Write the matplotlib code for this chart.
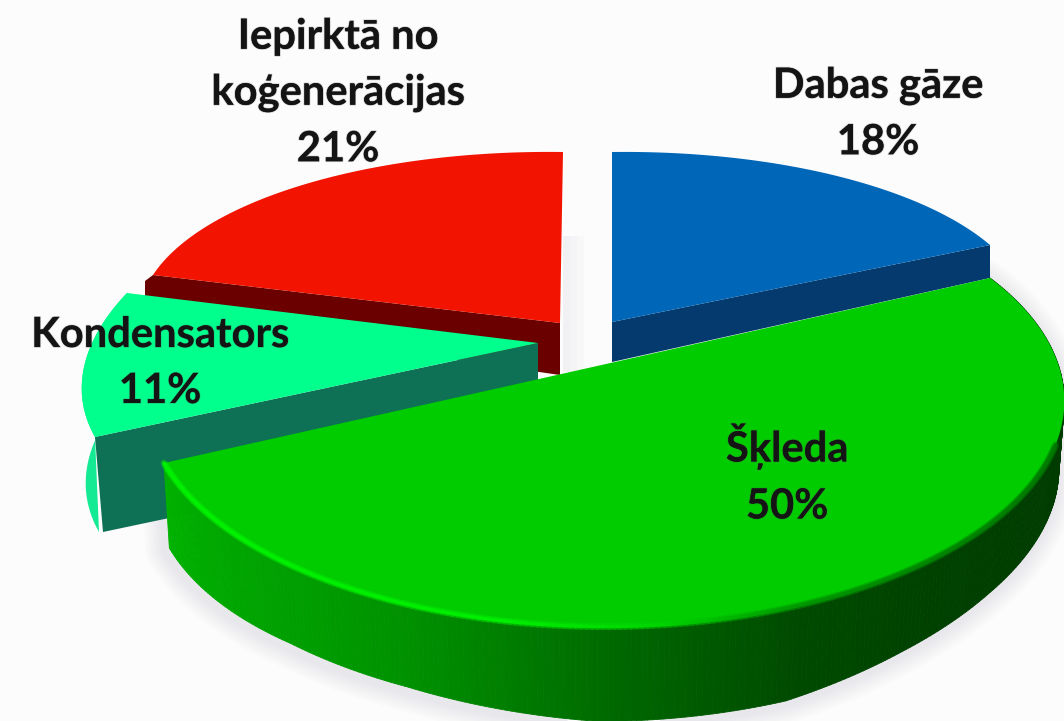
import numpy as np
import matplotlib
matplotlib.use("Agg")
import matplotlib.pyplot as plt
import matplotlib.patheffects as pe
from matplotlib.collections import PolyCollection, LineCollection
from matplotlib.patches import Polygon

# ---- data ----
names = ["Dabas gāze", "Šķleda", "Kondensators", "Iepirktā no\nkoģenerācijas"]
shares = [18, 50, 11, 21]

# ---- colours ----
TOP = ["#0066b8", "#00cc00", "#00ff8c", "#f21400"]
WALL = ["#043a6e", "#006000", "#0e7055", "#6a0000"]
BG = "#fcfcfc"

# ---- layout, in pixels of the picture ----
BLUE_APEX, BLUE_TIP_A, BLUE_TIP_B = (612, 322), (612, 152), (990, 245)
RED_APEX, RED_TIP_A, RED_TIP_B = (560, 323), (563, 152), (153, 275)
MINT_APEX, MINT_TIP_A, MINT_TIP_B = (538, 343), (127, 293), (95, 437)
GREEN_FRONT, GREEN_BACK, GREEN_RIGHT, GREEN_LEFT = (801, 605), (419, 195), (990, 278), (164, 463)
LABEL_POS = [(878, 114), (787, 474), (160, 363), (338, 93)]
LABEL_SIZE = 30

# wall shading and depth of the green slice, by picture x
WALL_X = [164, 199, 405, 610, 790, 930, 1064]
WALL_G = [178, 170, 145, 105, 75, 65, 60]
DEPTH_X = [164, 287, 405, 600, 788, 906, 994, 1064]
DEPTH_V = [85, 80, 83, 95, 93, 80, 72, 68]


def affine(share, apex, tip_a, tip_b):
    half = share / 100 * np.pi
    a, b, c = (np.array(p, float) for p in (apex, tip_a, tip_b))
    ta, tb = b - a, c - a
    m = (ta + tb) / (2 * np.cos(half))
    n = (ta - tb) / (2 * np.sin(half))
    return np.array([[m[0], n[0], a[0]], [m[1], n[1], a[1]], [0, 0, 1]])


def homography(dst):
    src = [(1, 0), (-1, 0), (0, 1), (0, -1)]
    rows = []
    for (x, y), (u, v) in zip(src, dst):
        rows.append([x, y, 1, 0, 0, 0, -u * x, -u * y, -u])
        rows.append([0, 0, 0, x, y, 1, -v * x, -v * y, -v])
    return np.linalg.svd(np.array(rows, float))[2][-1].reshape(3, 3)


def arc(share, H, n=300):
    half = share / 100 * np.pi
    t = np.linspace(-half, half, n)
    p = H @ np.vstack([np.cos(t), np.sin(t), np.ones_like(t)])
    return (p[:2] / p[2]).T


def apex_of(H):
    p = H @ np.array([0, 0, 1.0])
    return p[:2] / p[2]


fig = plt.figure(figsize=(10.64, 7.21), dpi=100, facecolor=BG)
ax = fig.add_axes([0, 0, 1, 1])
ax.set_xlim(0, 1064)
ax.set_ylim(721, 0)
ax.axis("off")

H_blue = affine(shares[0], BLUE_APEX, BLUE_TIP_A, BLUE_TIP_B)
H_green = homography([GREEN_FRONT, GREEN_BACK, GREEN_RIGHT, GREEN_LEFT])
H_mint = affine(shares[2], MINT_APEX, MINT_TIP_A, MINT_TIP_B)
H_red = affine(shares[3], RED_APEX, RED_TIP_A, RED_TIP_B)

# ---- green geometry first, the shadow needs it ----
top_g = arc(shares[1], H_green)
depth = np.interp(top_g[:, 0], DEPTH_X, DEPTH_V)
low_g = top_g + np.column_stack([0.012 * (610 - top_g[:, 0]), depth])

# ---- soft shadows ----
outline = np.vstack([top_g, low_g[::-1]])
for lw in range(30, 2, -4):
    ax.add_patch(Polygon(outline + [-3, 3], closed=True, facecolor="none",
                         edgecolor="#b8b0c4", lw=lw, alpha=0.04, zorder=1, joinstyle="round"))
for right in (584, 577, 570):
    ax.add_patch(Polygon([(563, 236), (right, 236), (right, 372), (563, 372)], closed=True,
                         facecolor="#dcdce6", edgecolor="none", alpha=0.12, zorder=1))

# ---- red (back left) ----
top_r = arc(shares[3], H_red)
ap = apex_of(H_red)
ax.add_patch(Polygon([ap, top_r[0], top_r[0] + (-8, 6), top_r[0] + (-8, 40), ap + (0, 52)],
                     closed=True, facecolor=WALL[3], edgecolor="none", zorder=2))
ax.add_patch(Polygon(np.vstack([ap, top_r]), closed=True, facecolor=TOP[3], edgecolor="none", zorder=3))

# ---- blue (back right) ----
top_b = arc(shares[0], H_blue)
ap = apex_of(H_blue)
ax.add_patch(Polygon([ap, top_b[0], top_b[0] + (0, 33), ap + (0, 40)],
                     closed=True, facecolor=WALL[0], edgecolor="none", zorder=2))
ax.add_patch(Polygon(np.vstack([ap, top_b]), closed=True, facecolor=TOP[0], edgecolor="none", zorder=3))

# ---- mint (left) ----
top_m = arc(shares[2], H_mint)
ap = apex_of(H_mint)
lower = top_m + np.array([4, 95])
ax.add_patch(Polygon(np.vstack([top_m, lower[::-1]]), closed=True, facecolor="#14ea94",
                     edgecolor="none", zorder=4))
tip_front = top_m[0]
ax.add_patch(Polygon([ap, tip_front, tip_front + (8, 95), ap + (0, 97)],
                     closed=True, facecolor=WALL[2], edgecolor="none", zorder=5))
ax.add_patch(Polygon(np.vstack([ap, top_m]), closed=True, facecolor=TOP[2], edgecolor="none", zorder=6))

# ---- green (front) ----
g = np.interp(top_g[:, 0], WALL_X, WALL_G) / 255
quads = [[top_g[i], top_g[i + 1], low_g[i + 1], low_g[i]] for i in range(len(top_g) - 1)]
cols = [(0.0, g[i], 0.0) for i in range(len(top_g) - 1)]
ax.add_collection(PolyCollection(quads, facecolors=cols, edgecolors=cols, linewidths=0.6, zorder=7))
ax.add_patch(Polygon(top_g, closed=True, facecolor=TOP[1], edgecolor="none", zorder=8))

front_edge = [i for i in range(len(top_g) - 1) if top_g[i, 1] > 445]
edge_val = np.interp(top_g[:, 0], [164, 500, 660, 800, 1064], [240, 238, 212, 150, 120]) / 255
segs = [[top_g[i], top_g[i + 1]] for i in front_edge]
edge_cols = [(0.0, edge_val[i], 0.0) for i in front_edge]
ax.add_collection(LineCollection(segs, colors=edge_cols, linewidths=5, alpha=0.35,
                                 zorder=8.4, capstyle="round"))
ax.add_collection(LineCollection(segs, colors=edge_cols, linewidths=2.4, zorder=8.5, capstyle="round"))

# ---- labels ----
for name, share, (x, y) in zip(names, shares, LABEL_POS):
    ax.text(x, y, f"{name}\n{share}%", ha="center", va="center", ma="center",
            family=["Lato", "DejaVu Sans"], fontweight="bold", fontsize=LABEL_SIZE,
            color="#141414", linespacing=1.58, zorder=10,
            path_effects=[pe.withStroke(linewidth=1.2, foreground="#55555544")])

fig.savefig("out.png", dpi=100, facecolor=BG)
